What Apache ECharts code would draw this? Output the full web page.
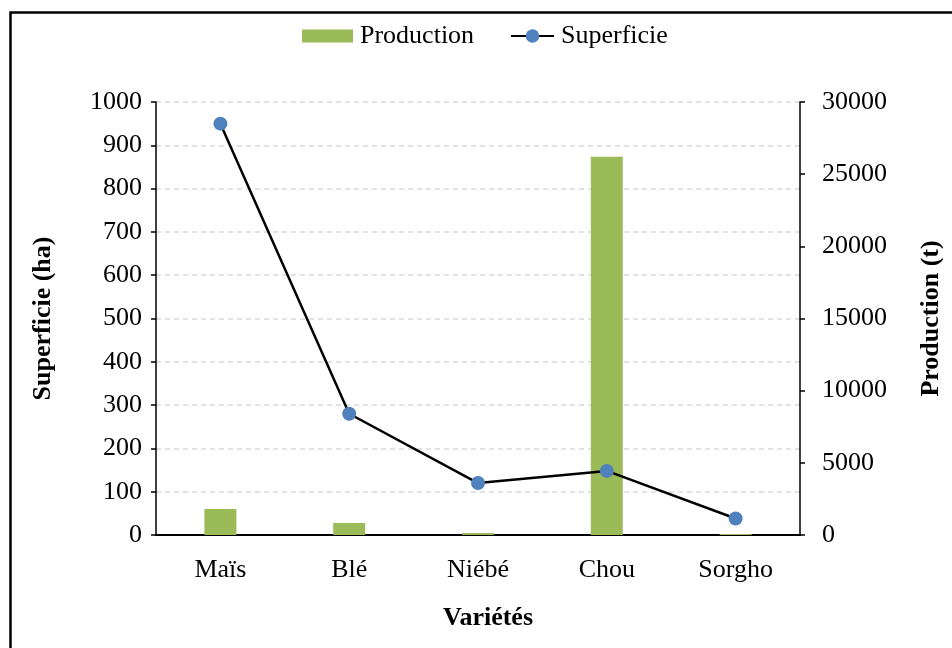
<!DOCTYPE html>
<html>
<head>
<meta charset="utf-8">
<script src="https://cdn.jsdelivr.net/npm/echarts@6/dist/echarts.min.js"></script>
<style>
html,body{margin:0;padding:0;background:#fff;}
#chart{width:952px;height:648px;}
</style>
</head>
<body>
<div id="chart"></div>
<script>
const categories = ['Maïs', 'Blé', 'Niébé', 'Chou', 'Sorgho'];
const production = [1800, 830, 140, 26200, 70];   // t (right axis)
const superficie = [950, 280, 120, 148, 38];      // ha (left axis)

const FONT = '"Liberation Serif", "Times New Roman", serif';
const plain = v => String(v);
const chart = echarts.init(document.getElementById('chart'), null, {renderer: 'canvas'});
chart.setOption({
  animation: false,
  backgroundColor: '#fff',
  textStyle: {fontFamily: FONT},
  graphic: [{
    type: 'rect', silent: true, z: 100,
    shape: {x: 10.5, y: 12.5, width: 960, height: 660},
    style: {fill: 'none', stroke: '#000', lineWidth: 2.5}
  }],
  legend: [{
    top: 18, left: 297,
    itemWidth: 51, itemHeight: 13, icon: 'rect',
    textStyle: {fontFamily: FONT, fontSize: 26, color: '#000', padding: [0, 0, 0, 2]},
    data: ['Production']
  }, {
    top: 18, left: 505,
    itemWidth: 43, itemHeight: 17,
    textStyle: {fontFamily: FONT, fontSize: 26, color: '#000', padding: [0, 0, 0, 2]},
    data: ['Superficie']
  }],
  grid: {left: 156, right: 152, top: 102, bottom: 113},
  xAxis: {
    type: 'category', data: categories,
    axisLine: {lineStyle: {color: '#000', width: 2}},
    axisTick: {show: false},
    axisLabel: {fontFamily: FONT, fontSize: 26, color: '#000', margin: 22},
    name: 'Variétés', nameLocation: 'middle', nameGap: 70,
    nameTextStyle: {fontFamily: FONT, fontSize: 26, fontWeight: 'bold', color: '#000', padding: [0, 0, 0, 20]}
  },
  yAxis: [{
    type: 'value', min: 0, max: 1000, interval: 100, position: 'left',
    axisLine: {show: true, lineStyle: {color: '#000', width: 1.5}},
    axisTick: {show: true, length: 5, lineStyle: {color: '#000', width: 1.5}},
    axisLabel: {fontFamily: FONT, fontSize: 26, color: '#000', margin: 14, formatter: plain},
    splitLine: {show: true, lineStyle: {color: '#d9d9d9', type: [5, 4], width: 1.5}},
    name: 'Superficie (ha)', nameLocation: 'middle', nameGap: 100, nameRotate: 90,
    nameTextStyle: {fontFamily: FONT, fontSize: 26, fontWeight: 'bold', color: '#000'}
  }, {
    type: 'value', min: 0, max: 30000, interval: 5000, position: 'right',
    axisLine: {show: true, lineStyle: {color: '#000', width: 1.5}},
    axisTick: {show: true, length: 5, lineStyle: {color: '#000', width: 1.5}},
    axisLabel: {fontFamily: FONT, fontSize: 26, color: '#000', margin: 22, formatter: plain},
    splitLine: {show: false},
    name: 'Production (t)', nameLocation: 'middle', nameGap: 118, nameRotate: 90,
    nameTextStyle: {fontFamily: FONT, fontSize: 26, fontWeight: 'bold', color: '#000'}
  }],
  series: [{
    name: 'Production', type: 'bar', yAxisIndex: 1,
    data: production, barWidth: 32,
    itemStyle: {color: '#9bbb59'}
  }, {
    name: 'Superficie', type: 'line', yAxisIndex: 0,
    data: superficie,
    symbol: 'circle', symbolSize: 14,
    itemStyle: {color: '#4f81bd'},
    lineStyle: {color: '#000', width: 2.5}
  }]
});
</script>
</body>
</html>
